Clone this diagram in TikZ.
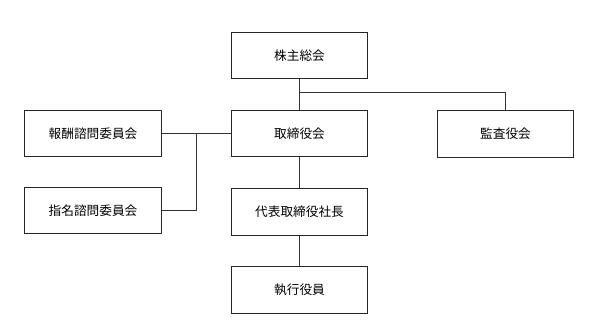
\documentclass[tikz,border=0pt]{standalone}
\usepackage{fontspec}
\setmainfont{Noto Sans CJK JP}
\begin{document}
\begin{tikzpicture}[x=0.75pt,y=-0.75pt,
  orgbox/.style={draw=black!85,line width=0.85pt,minimum width=102.5pt,minimum height=34.8pt,inner sep=0pt,font=\fontsize{9.5pt}{11pt}\selectfont,text=black},
  conn/.style={draw=black!80,line width=0.85pt}]
\useasboundingbox (0,0) rectangle (598,330);
\node[orgbox] (sh) at (299.5,55.3) {株主総会};
\node[orgbox] (tb) at (299.5,133.5) {取締役会};
\node[orgbox] (kn) at (505.5,134) {監査役会};
\node[orgbox] (hs) at (93,133.5) {報酬諮問委員会};
\node[orgbox] (sm) at (93,210.5) {指名諮問委員会};
\node[orgbox] (dh) at (299.5,212) {代表取締役社長};
\node[orgbox] (sy) at (299.5,290) {執行役員};
\coordinate (j1) at (299.5,92.5);
\coordinate (j2) at (196.5,133.5);
\draw[conn] (sh.south) -- (tb.north);
\draw[conn] (j1) -| (kn.north);
\draw[conn] (hs.east) -- (tb.west);
\draw[conn] (j2) |- (sm.east);
\draw[conn] (tb.south) -- (dh.north);
\draw[conn] (dh.south) -- (sy.north);
\end{tikzpicture}
\end{document}
